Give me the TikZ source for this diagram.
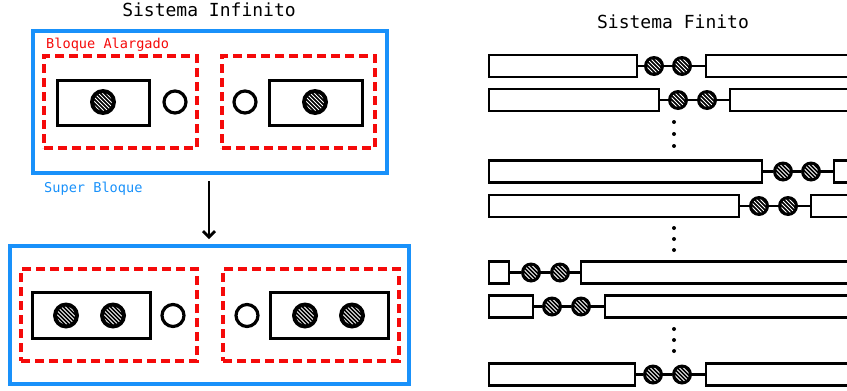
\documentclass[tikz,border=0pt]{standalone}
\usepackage{fontspec}
\setmonofont{DejaVu Sans Mono}
\usetikzlibrary{arrows.meta}
\definecolor{sbblue}{RGB}{25,145,250}
\definecolor{bared}{RGB}{245,10,10}
\begin{document}
\begin{tikzpicture}[x=1pt,y=-1pt,
  bluebox/.style={draw=sbblue, line width=3.4pt, inner sep=0, outer sep=0},
  redbox/.style={draw=bared, line width=3.2pt, dash pattern=on 9pt off 5pt, inner sep=0, outer sep=0},
  blk/.style={draw=black, line width=3pt, inner sep=0, outer sep=0},
  frect/.style={draw=black, line width=2.4pt, inner sep=0, outer sep=0, minimum height=22pt},
  opencirc/.style={circle, draw=black, line width=3.2pt, inner sep=0, minimum size=22pt},
  hatch/.style={circle, fill=black, inner sep=0, outer sep=0, minimum size=#1pt,
    path picture={
      \clip (path picture bounding box.center) circle (0.34*#1);
      \foreach \k in {-16,-12,...,16}
        \draw[white, line width=1pt] ([shift={(\k-14,-14)}]path picture bounding box.center) -- ([shift={(\k+14,14)}]path picture bounding box.center);
    }},
  title/.style={font=\ttfamily\fontsize{18}{20}\selectfont, inner sep=0, anchor=base},
  lbl/.style={font=\ttfamily\fontsize{13.6}{15}\selectfont, inner sep=0, anchor=base west},
  conn/.style={line width=2.4pt},
  dot/.style={circle, fill=black, inner sep=0, minimum size=4pt}
]
\useasboundingbox (0,0) rectangle (847,391);

% ---------- Left: Sistema Infinito ----------
\node[title] (t1) at (209,16.7) {Sistema Infinito};

\node[bluebox, minimum width=354pt, minimum height=142pt] (sb1) at (210,102) {};
\node[lbl, text=bared] (ba) at (46,48.7) {Bloque Alargado};
\node[redbox, minimum width=153pt, minimum height=92pt] (rb1) at (120.5,102) {};
\node[redbox, minimum width=153pt, minimum height=92pt] (rb2) at (298.5,102) {};
\node[blk, minimum width=92pt, minimum height=45pt] (k1) at (103,102.5) {};
\node[blk, minimum width=93pt, minimum height=45pt] (k2) at (315.5,102.5) {};
\node[hatch=26] (h1) at (103,102) {};
\node[hatch=26] (h2) at (315,102) {};
\node[opencirc] (o1) at (175,102) {};
\node[opencirc] (o2) at (245,102) {};
\node[lbl, text=sbblue] (sbl) at (44,192.7) {Super Bloque};

\coordinate (ar1) at (209,181);
\coordinate (ar2) at (209,239);
\draw[line width=2.8pt, -{Straight Barb[length=6pt,width=12pt,line width=2.8pt]}] (ar1) -- (ar2);

\node[bluebox, minimum width=399pt, minimum height=138pt] (sb2) at (209.5,315) {};
\node[redbox, minimum width=176pt, minimum height=92pt] (rb3) at (109,315) {};
\node[redbox, minimum width=176pt, minimum height=92pt] (rb4) at (311,315) {};
\node[blk, minimum width=118pt, minimum height=46pt] (k3) at (91,315) {};
\node[blk, minimum width=118pt, minimum height=46pt] (k4) at (329,315) {};
\node[hatch=26] (h3) at (66,315.5) {};
\node[hatch=26] (h4) at (113,315.5) {};
\node[hatch=26] (h5) at (305,315.5) {};
\node[hatch=26] (h6) at (352,315.5) {};
\node[opencirc] (o3) at (173,315.5) {};
\node[opencirc] (o4) at (247,315.5) {};

% ---------- Right: Sistema Finito ----------
\node[title] (t2) at (673,28.5) {Sistema Finito};

\begin{scope}
\clip (470,0) rectangle (847,391);
\foreach \i/\y/\e/\ca/\cb/\r in {1/66/637/654/682/706, 2/100/659/678/707/730, 3/171.5/762/783/811/834, 4/206/739/759/788/811, 5/272.5/509/531/560/581, 6/306.5/533/552/581/605, 7/374.5/635/653/682/706}{
  \node[frect, minimum width={\e-489}, anchor=west] (L\i) at (489,\y) {};
  \node[frect, minimum width=400pt, anchor=west] (R\i) at (\r,\y) {};
  \node[hatch=20] (A\i) at (\ca,\y) {};
  \node[hatch=20] (B\i) at (\cb,\y) {};
  \draw[conn] (L\i.east) -- (A\i) -- (B\i) -- (R\i.west);
}
\end{scope}
\foreach \j/\y in {1/122,2/134,3/146,4/228,5/239,6/250,7/329,8/340,9/351}
  \node[dot] (d\j) at (674,\y) {};
\end{tikzpicture}
\end{document}
